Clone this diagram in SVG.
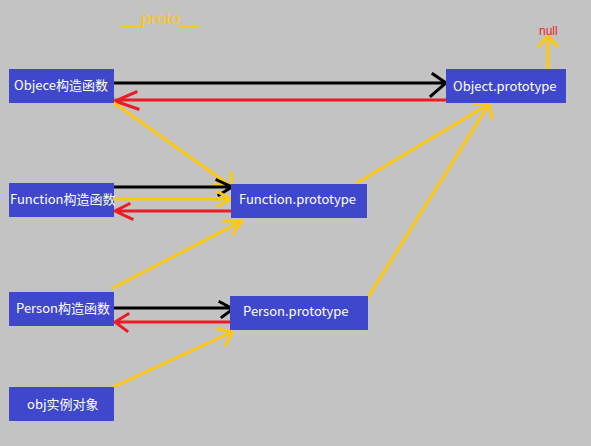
<svg xmlns="http://www.w3.org/2000/svg" width="591" height="446" viewBox="0 0 591 446">
<style>
.box{fill:#3F48CC}
.lbl{fill:#FFFFFF;font-family:"Noto Sans CJK SC","Noto Sans",sans-serif;font-size:13px}
.proto{fill:#FFC90E;font-family:"Liberation Sans","DejaVu Sans",sans-serif;font-size:17px}
.nul{fill:#ED1C24;font-family:"Liberation Sans","DejaVu Sans",sans-serif;font-size:12px}
.k{stroke:#000000;stroke-width:3;fill:none;stroke-linecap:square}
.r{stroke:#ED1C24;stroke-width:3;fill:none;stroke-linecap:square}
.y{stroke:#FFC90E;stroke-width:3;fill:none;stroke-linecap:square}
</style>
<rect width="591" height="446" fill="#C3C3C3"/>
<text class="proto" x="122" y="24">__proto__</text>
<g id="connectors">
  <path class="k" d="M114 83 H445 M433 74 L446 83 L431 96"/>
  <path class="r" d="M446 100 H116 M136 92 L115 101 L138 109"/>
  <path class="y" d="M114 103 L232 187 M231 173 L232 187 L214 185"/>
  <path class="k" d="M114 187 H231 M217 180 L232 187 L219 195"/>
  <path class="y" d="M114 199 H230 M218 192 L231 199 L218 206"/>
  <path class="r" d="M231 211 H116 M129 204 L115 211 L132 219"/>
  <path class="y" d="M113 288 L242 221 M224 221 L242 221 L233 234"/>
  <path class="y" d="M357 183 L489 104"/>
  <path class="y" d="M367 299 L489 104 M474 104 L489 103 L492 118"/>
  <path class="y" d="M548 69 V37 M539 46 L548 36 L557 46"/>
  <path class="k" d="M114 308 H232 M220 302 L233 309 L222 317"/>
  <path class="r" d="M230 322 H116 M128 314 L115 322 L127 331"/>
  <path class="y" d="M109 389 L232 332 M218 329 L232 332 L226 345"/>
</g>
<g id="object-ctor">
  <rect class="box" x="9" y="69" width="105" height="34"/>
  <text class="lbl" x="14" y="90">Objece构造函数</text>
</g>
<g id="object-prototype">
  <rect class="box" x="446" y="69" width="120" height="34"/>
  <text class="lbl" x="453" y="91">Object.prototype</text>
</g>
<g id="null">
  <text class="nul" x="539" y="35">null</text>
</g>
<g id="function-ctor">
  <rect class="box" x="9" y="183" width="105" height="34"/>
  <text class="lbl" x="10" y="204">Function构造函数</text>
</g>
<g id="function-prototype">
  <rect class="box" x="231" y="184" width="136" height="34"/>
  <text class="lbl" x="239" y="204">Function.prototype</text>
</g>
<g id="person-ctor">
  <rect class="box" x="9" y="292" width="105" height="34"/>
  <text class="lbl" x="16" y="313">Person构造函数</text>
</g>
<g id="person-prototype">
  <rect class="box" x="230" y="296" width="138" height="34"/>
  <text class="lbl" x="243" y="316">Person.prototype</text>
</g>
<g id="obj">
  <rect class="box" x="9" y="387" width="105" height="34"/>
  <text class="lbl" x="27" y="409">obj实例对象</text>
</g>
</svg>
